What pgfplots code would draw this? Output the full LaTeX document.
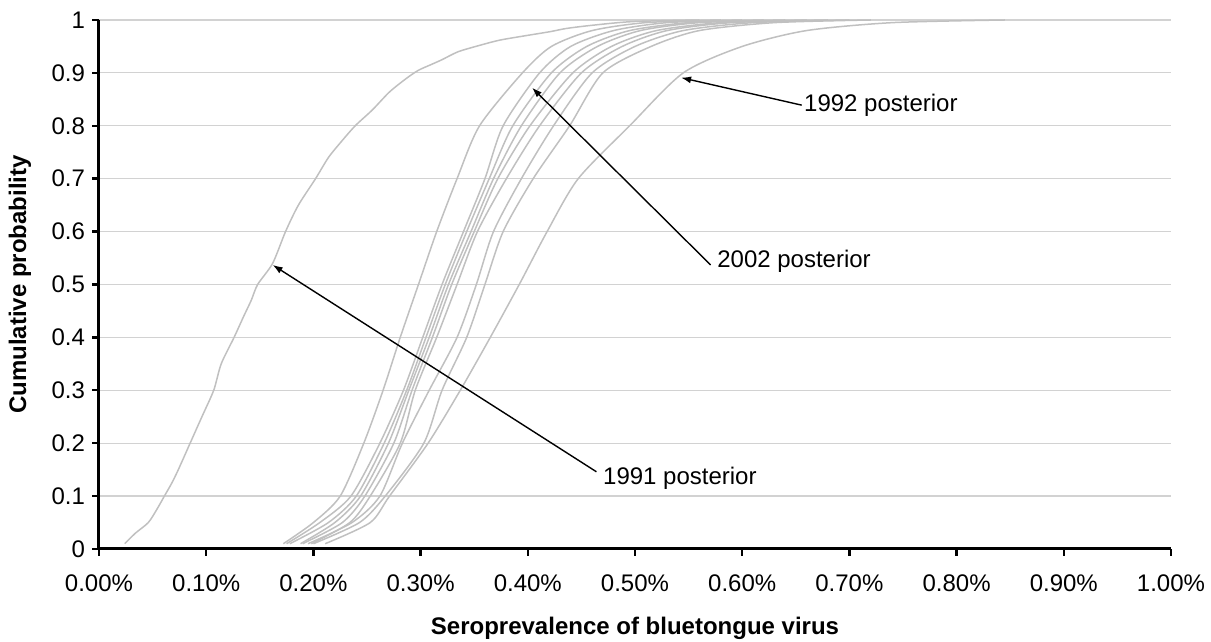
\documentclass[border=0pt]{standalone}
\usepackage{fontspec}
\setmainfont{Liberation Sans}
\usepackage{pgfplots}
\pgfplotsset{compat=1.18}
\usetikzlibrary{arrows.meta}
\newcommand\fs{\fontsize{12}{14}\selectfont}
\definecolor{curve}{RGB}{192,192,192}
\definecolor{gridc}{RGB}{210,210,210}
\tikzset{cv/.style={curve, line width=0.75pt, mark=none, smooth, tension=0.45}}
\begin{document}
\begin{tikzpicture}[font=\fs]
\path[use as bounding box] (0,0) rectangle (605.5pt,321pt);
\begin{axis}[
  at={(49.5pt,46.5pt)}, anchor=south west,
  scale only axis, width=536pt, height=264.5pt,
  xmin=0, xmax=1, ymin=0, ymax=1, clip=false,
  axis x line=bottom, axis y line=left,
  axis line style={line width=1.5pt, -},
  xtick={0,0.1,0.2,0.3,0.4,0.5,0.6,0.7,0.8,0.9,1},
  xticklabels={0.00\%,0.10\%,0.20\%,0.30\%,0.40\%,0.50\%,0.60\%,0.70\%,0.80\%,0.90\%,1.00\%},
  ytick={0,0.1,0.2,0.3,0.4,0.5,0.6,0.7,0.8,0.9,1},
  yticklabels={0,0.1,0.2,0.3,0.4,0.5,0.6,0.7,0.8,0.9,1},
  tick align=outside, major tick length=3.5pt,
  tick style={line width=1.2pt, black},
  ymajorgrids, grid style={line width=0.6pt, gridc},
  tick label style={font=\fs},
  xticklabel style={yshift=-6pt},
  xlabel={Seroprevalence of bluetongue virus},
  ylabel={Cumulative probability},
  label style={font=\fs\bfseries},
  xlabel style={at={(axis description cs:0.5,-0.1493)}, anchor=center},
  ylabel style={at={(axis description cs:-0.0737,0.5)}, anchor=center, rotate=0},
]
% 1991 posterior
\addplot[cv] coordinates {(0.024,0.01)(0.034,0.03)(0.046,0.05)(0.054,0.075)(0.061,0.10)(0.068,0.125)(0.074,0.15)(0.085,0.20)(0.096,0.25)(0.107,0.30)(0.114,0.35)(0.126,0.40)(0.135,0.44)(0.142,0.47)(0.148,0.50)(0.162,0.54)(0.174,0.60)(0.186,0.65)(0.202,0.70)(0.214,0.74)(0.226,0.77)(0.239,0.80)(0.255,0.83)(0.271,0.864)(0.287,0.89)(0.298,0.905)(0.309,0.915)(0.320,0.925)(0.335,0.94)(0.355,0.952)(0.374,0.962)(0.40,0.971)(0.421,0.978)(0.436,0.984)(0.46,0.99)(0.498,0.997)(0.56,1.0)};
% A
\addplot[cv] coordinates {(0.172,0.01)(0.200,0.05)(0.225,0.1)(0.247,0.2)(0.265,0.3)(0.281,0.4)(0.298,0.5)(0.315,0.6)(0.334,0.7)(0.355,0.8)(0.395,0.9)(0.422,0.95)(0.46,0.98)(0.51,0.995)(0.58,1)};
% B1
\addplot[cv] coordinates {(0.175,0.01)(0.206,0.05)(0.235,0.1)(0.262,0.2)(0.284,0.3)(0.302,0.4)(0.320,0.5)(0.340,0.6)(0.360,0.7)(0.377,0.8)(0.411,0.9)(0.44,0.95)(0.48,0.98)(0.53,0.995)(0.60,1)};
% B2
\addplot[cv] coordinates {(0.178,0.01)(0.214,0.05)(0.240,0.1)(0.266,0.2)(0.287,0.3)(0.305,0.4)(0.323,0.5)(0.343,0.6)(0.364,0.7)(0.386,0.8)(0.422,0.9)(0.455,0.95)(0.495,0.98)(0.55,0.995)(0.62,1)};
% B3
\addplot[cv] coordinates {(0.188,0.01)(0.220,0.05)(0.244,0.1)(0.270,0.2)(0.289,0.3)(0.308,0.4)(0.326,0.5)(0.347,0.6)(0.368,0.7)(0.394,0.8)(0.430,0.9)(0.465,0.95)(0.505,0.98)(0.56,0.995)(0.64,1)};
% B4
\addplot[cv] coordinates {(0.190,0.01)(0.227,0.05)(0.248,0.1)(0.275,0.2)(0.292,0.3)(0.311,0.4)(0.329,0.5)(0.350,0.6)(0.372,0.7)(0.402,0.8)(0.442,0.9)(0.478,0.95)(0.52,0.98)(0.58,0.995)(0.66,1)};
% B5
\addplot[cv] coordinates {(0.198,0.01)(0.234,0.05)(0.253,0.1)(0.281,0.2)(0.295,0.3)(0.315,0.4)(0.334,0.5)(0.353,0.6)(0.380,0.7)(0.411,0.8)(0.450,0.9)(0.488,0.95)(0.53,0.98)(0.59,0.995)(0.68,1)};
% C1
\addplot[cv] coordinates {(0.195,0.01)(0.236,0.05)(0.262,0.1)(0.283,0.2)(0.308,0.3)(0.334,0.4)(0.352,0.5)(0.368,0.6)(0.394,0.7)(0.424,0.8)(0.460,0.9)(0.50,0.95)(0.545,0.98)(0.61,0.995)(0.70,1)};
% C2
\addplot[cv] coordinates {(0.200,0.01)(0.243,0.05)(0.267,0.1)(0.303,0.2)(0.320,0.3)(0.343,0.4)(0.360,0.5)(0.377,0.6)(0.405,0.7)(0.439,0.8)(0.470,0.9)(0.515,0.95)(0.56,0.98)(0.63,0.995)(0.72,1)};
% 1992 posterior
\addplot[cv] coordinates {(0.211,0.01)(0.253,0.05)(0.271,0.1)(0.307,0.2)(0.337,0.3)(0.365,0.4)(0.392,0.5)(0.418,0.6)(0.447,0.7)(0.495,0.8)(0.545,0.9)(0.60,0.95)(0.66,0.98)(0.74,0.995)(0.845,1)};
% annotations
\draw[black, line width=0.7pt, -{Latex[length=5pt,width=3.5pt]}] (axis cs:0.6555,0.839) -- (axis cs:0.543,0.891);
\node[anchor=west, inner sep=0.5pt] at (axis cs:0.6565,0.839) {1992 posterior};
\draw[black, line width=0.7pt, -{Latex[length=5pt,width=3.5pt]}] (axis cs:0.5705,0.537) -- (axis cs:0.404,0.872);
\node[anchor=west, inner sep=0.5pt] at (axis cs:0.5755,0.543) {2002 posterior};
\draw[black, line width=0.7pt, -{Latex[length=5pt,width=3.5pt]}] (axis cs:0.464,0.146) -- (axis cs:0.162,0.537);
\node[anchor=west, inner sep=0.5pt] at (axis cs:0.469,0.134) {1991 posterior};
\end{axis}
\end{tikzpicture}
\end{document}
